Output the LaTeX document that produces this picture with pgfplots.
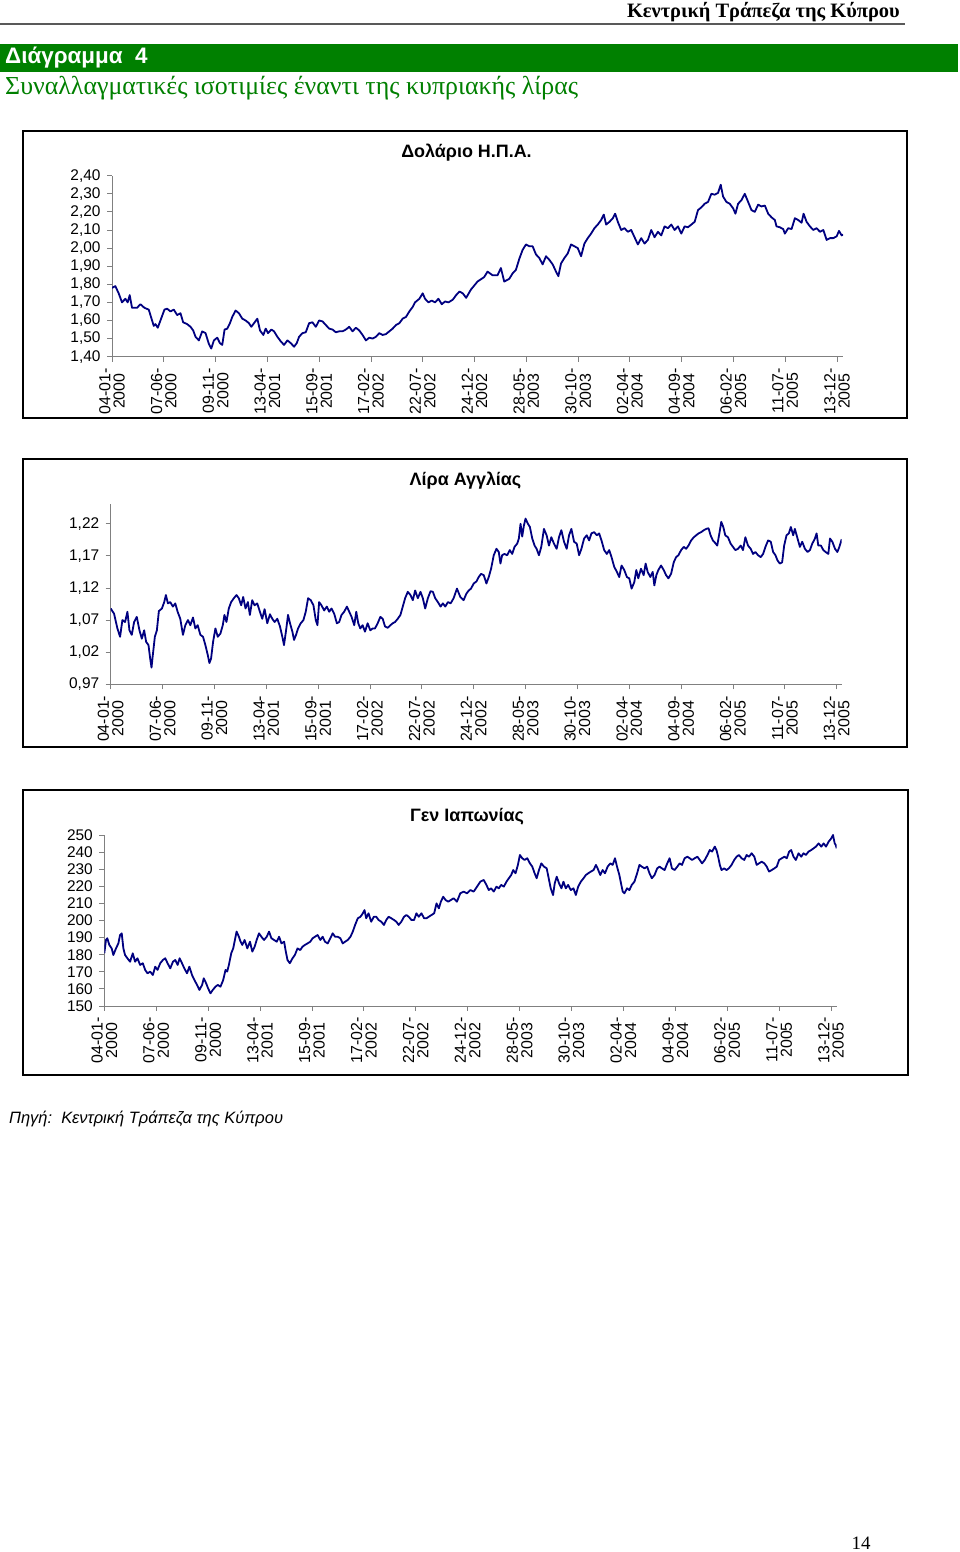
\documentclass[border=0pt]{standalone}
\usepackage{pgfplots}
\pgfplotsset{compat=1.18}
\usepackage{fontspec}
\setmainfont{Liberation Sans}
\newfontfamily\serif{Liberation Serif}
\definecolor{cbgreen}{RGB}{0,128,0}
\definecolor{navy}{RGB}{0,0,128}
\definecolor{axgray}{RGB}{128,128,128}

\pgfplotsset{
  fx/.style={
    scale only axis,
    anchor=south west,
    axis x line*=bottom, axis y line*=left,
    axis line style={axgray, line width=0.8bp},
    tick style={axgray, line width=0.8bp},
    tick align=outside,
    major tick length=5bp,
    xmin=0,
    xtick={0,155,...,2170},
    xticklabels={{04-01-\\2000},{07-06-\\2000},{09-11-\\2000},{13-04-\\2001},{15-09-\\2001},
      {17-02-\\2002},{22-07-\\2002},{24-12-\\2002},{28-05-\\2003},{30-10-\\2003},
      {02-04-\\2004},{04-09-\\2004},{06-02-\\2005},{11-07-\\2005},{13-12-\\2005}},
    xticklabel style={yshift=-3bp, rotate=90, anchor=east, align=center,
      font=\fontsize{16}{14.5}\selectfont},
    yticklabel style={xshift=-3bp, font=\fontsize{15.5}{16}\selectfont},
    /pgf/number format/assume math mode=true,
  },
  comma2/.style={
    yticklabel style={/pgf/number format/fixed, /pgf/number format/precision=2,
      /pgf/number format/fixed zerofill, /pgf/number format/use comma},
  },
  fxline/.style={navy, line width=1.8bp, line join=round, no marks},
}

\begin{document}
\begin{tikzpicture}
\useasboundingbox (0,0) rectangle (960bp,1552bp);
\fill[white] (0,0) rectangle (960bp,1552bp);

% page header
\node[anchor=east, inner sep=0pt, font=\serif\bfseries\fontsize{20.5}{22}\selectfont]
  at (900bp,1540bp) {Κεντρική Τράπεζα της Κύπρου};
\draw[black!65, line width=1.5bp] (0bp,1528bp) -- (905bp,1528bp);
\fill[cbgreen] (0bp,1480bp) rectangle (958bp,1508bp);
\node[anchor=west, inner sep=0pt, text=white, font=\bfseries\fontsize{22.5}{24}\selectfont]
  at (5bp,1494bp) {Διάγραμμα\ \ 4};
\node[anchor=west, inner sep=0pt, text=cbgreen, font=\serif\fontsize{26}{28}\selectfont]
  at (5bp,1464bp) {Συναλλαγματικές ισοτιμίες έναντι της κυπριακής λίρας};

% frames
\draw[black, line width=2bp] (23bp,1134bp) rectangle (907bp,1421bp);
\draw[black, line width=2bp] (23bp,805bp) rectangle (907bp,1093bp);
\draw[black, line width=2bp] (23bp,477bp) rectangle (908bp,762bp);

% chart titles
\node[font=\bfseries\fontsize{18}{20}\selectfont] at (466.5bp,1399bp) {Δολάριο Η.Π.Α.};
\node[font=\bfseries\fontsize{18}{20}\selectfont] at (465.5bp,1071bp) {Λίρα Αγγλίας};
\node[font=\bfseries\fontsize{18}{20}\selectfont] at (467bp,735bp) {Γεν Ιαπωνίας};

% chart 1: US dollar
\begin{axis}[fx, comma2, at={(112bp,1195.3bp)}, width=731bp, height=181bp,
  xmax=2188, ymin=1.4, ymax=2.4,
  ytick={1.4,1.5,1.6,1.7,1.8,1.9,2.0,2.1,2.2,2.3,2.4}]
\addplot[fxline] table {
d v
0 1.78
10 1.79
20 1.75
30 1.70
40 1.72
47 1.70
53 1.74
60 1.67
75 1.67
85 1.69
97 1.67
110 1.66
120 1.60
125 1.57
130 1.58
137 1.56
145 1.60
157 1.66
165 1.665
175 1.65
185 1.66
195 1.63
205 1.64
213 1.59
225 1.58
235 1.565
243 1.545
250 1.51
260 1.49
270 1.54
280 1.53
290 1.47
297 1.445
305 1.49
315 1.505
323 1.475
330 1.465
337 1.55
345 1.555
353 1.585
360 1.62
370 1.655
380 1.64
390 1.61
400 1.60
410 1.585
417 1.565
425 1.585
435 1.61
443 1.545
453 1.52
460 1.555
467 1.53
477 1.55
485 1.54
495 1.51
505 1.485
515 1.465
525 1.49
535 1.475
545 1.455
553 1.475
560 1.51
570 1.53
580 1.535
590 1.585
600 1.59
610 1.565
620 1.60
630 1.595
640 1.575
650 1.555
660 1.55
670 1.535
680 1.54
690 1.54
700 1.55
710 1.565
720 1.54
730 1.56
740 1.545
750 1.52
760 1.49
770 1.505
780 1.50
790 1.51
800 1.53
810 1.52
820 1.525
830 1.54
840 1.555
850 1.575
860 1.585
870 1.61
880 1.62
890 1.65
900 1.675
907 1.70
920 1.72
930 1.75
937 1.72
947 1.70
957 1.71
967 1.70
977 1.72
987 1.69
997 1.705
1007 1.70
1020 1.715
1030 1.74
1040 1.76
1050 1.75
1060 1.725
1074 1.77
1094 1.815
1114 1.84
1124 1.87
1139 1.85
1154 1.85
1164 1.89
1174 1.815
1189 1.83
1199 1.86
1209 1.88
1219 1.94
1229 1.99
1239 2.02
1249 2.01
1259 2.01
1269 1.965
1279 1.945
1289 1.91
1299 1.955
1309 1.935
1319 1.91
1329 1.87
1336 1.845
1344 1.915
1354 1.945
1364 1.97
1374 2.02
1384 2.01
1394 2.00
1404 1.955
1414 2.025
1424 2.055
1434 2.08
1444 2.11
1454 2.13
1464 2.155
1472 2.185
1479 2.13
1489 2.145
1499 2.165
1506 2.19
1514 2.145
1524 2.10
1534 2.11
1544 2.09
1554 2.10
1564 2.06
1574 2.02
1584 2.055
1594 2.025
1604 2.045
1614 2.10
1624 2.06
1634 2.09
1644 2.07
1654 2.12
1664 2.11
1674 2.13
1684 2.10
1694 2.12
1704 2.08
1714 2.12
1724 2.115
1734 2.13
1744 2.145
1754 2.21
1764 2.225
1774 2.245
1784 2.255
1794 2.30
1804 2.295
1814 2.305
1822 2.35
1829 2.285
1839 2.255
1849 2.245
1859 2.22
1866 2.19
1874 2.245
1884 2.265
1894 2.30
1904 2.255
1914 2.21
1924 2.20
1934 2.24
1944 2.23
1954 2.235
1964 2.19
1974 2.17
1984 2.155
1989 2.12
1999 2.115
2009 2.105
2014 2.08
2024 2.11
2034 2.105
2044 2.165
2054 2.155
2064 2.14
2070 2.19
2079 2.145
2089 2.12
2099 2.10
2109 2.11
2119 2.09
2129 2.10
2139 2.045
2149 2.055
2159 2.055
2169 2.065
2176 2.095
2184 2.07
2188 2.075
};
\end{axis}

% chart 2: pound sterling
\begin{axis}[fx, comma2, at={(110.7bp,867.7bp)}, width=731bp, height=179.8bp,
  xmax=2185, ymin=0.97, ymax=1.25,
  ytick={0.97,1.02,1.07,1.12,1.17,1.22}]
\addplot[fxline] table {
d v
0 1.088
10 1.080
20 1.057
28 1.044
35 1.070
43 1.067
50 1.083
56 1.054
63 1.047
70 1.067
78 1.075
86 1.054
93 1.041
100 1.054
106 1.036
113 1.031
118 1.010
122 0.996
126 1.016
132 1.044
138 1.054
144 1.084
153 1.088
160 1.098
165 1.109
171 1.096
178 1.098
186 1.091
193 1.096
200 1.083
208 1.072
216 1.047
223 1.062
231 1.070
238 1.062
246 1.074
253 1.057
260 1.062
268 1.047
276 1.044
283 1.031
290 1.016
295 1.003
300 1.010
306 1.036
313 1.057
320 1.044
328 1.049
335 1.062
340 1.078
346 1.067
353 1.088
360 1.098
368 1.104
376 1.109
383 1.104
390 1.093
396 1.106
403 1.088
410 1.098
416 1.078
423 1.101
430 1.093
438 1.096
446 1.083
453 1.072
460 1.087
468 1.065
476 1.079
483 1.072
490 1.067
498 1.072
506 1.060
513 1.044
518 1.031
525 1.057
530 1.078
536 1.065
543 1.052
548 1.039
554 1.047
560 1.057
568 1.065
576 1.070
583 1.083
590 1.104
598 1.101
606 1.093
613 1.070
618 1.062
623 1.098
630 1.093
638 1.085
646 1.091
653 1.083
660 1.088
668 1.080
676 1.065
683 1.067
690 1.078
698 1.083
706 1.091
713 1.083
720 1.075
728 1.062
734 1.083
740 1.065
746 1.057
753 1.062
760 1.052
768 1.065
776 1.054
783 1.057
790 1.057
798 1.065
806 1.075
813 1.072
820 1.060
828 1.058
836 1.062
843 1.065
850 1.067
858 1.072
866 1.078
873 1.091
880 1.104
888 1.114
896 1.109
903 1.101
910 1.116
918 1.104
926 1.114
933 1.104
940 1.088
948 1.104
956 1.115
963 1.114
970 1.104
978 1.098
986 1.091
993 1.096
1000 1.091
1008 1.098
1016 1.096
1025 1.104
1035 1.119
1045 1.106
1055 1.101
1063 1.111
1070 1.116
1077 1.119
1085 1.127
1093 1.130
1100 1.137
1107 1.142
1115 1.140
1123 1.127
1130 1.137
1137 1.150
1145 1.171
1153 1.181
1160 1.176
1165 1.158
1170 1.171
1177 1.173
1185 1.171
1193 1.179
1200 1.173
1207 1.184
1215 1.189
1220 1.197
1225 1.220
1230 1.200
1235 1.217
1240 1.228
1247 1.220
1253 1.215
1260 1.197
1267 1.186
1273 1.181
1280 1.171
1287 1.184
1295 1.212
1303 1.202
1310 1.186
1317 1.199
1325 1.189
1333 1.181
1340 1.199
1347 1.210
1355 1.192
1363 1.181
1370 1.202
1377 1.212
1385 1.192
1393 1.189
1400 1.171
1407 1.181
1415 1.197
1423 1.202
1430 1.194
1437 1.205
1445 1.207
1453 1.202
1460 1.205
1467 1.194
1475 1.179
1483 1.173
1490 1.179
1497 1.168
1505 1.153
1513 1.145
1520 1.137
1527 1.155
1535 1.148
1543 1.137
1550 1.135
1557 1.119
1565 1.129
1571 1.148
1577 1.135
1585 1.150
1593 1.140
1599 1.158
1605 1.145
1613 1.137
1620 1.145
1625 1.124
1631 1.140
1637 1.148
1645 1.155
1653 1.148
1660 1.140
1667 1.135
1675 1.142
1683 1.160
1690 1.168
1697 1.171
1705 1.179
1713 1.184
1720 1.181
1727 1.186
1735 1.194
1743 1.199
1750 1.202
1757 1.205
1765 1.207
1773 1.210
1780 1.212
1787 1.213
1793 1.202
1800 1.194
1807 1.190
1813 1.186
1820 1.207
1825 1.223
1831 1.215
1837 1.202
1845 1.199
1853 1.189
1860 1.184
1867 1.179
1875 1.181
1883 1.186
1890 1.179
1897 1.199
1905 1.186
1913 1.181
1920 1.173
1927 1.176
1935 1.171
1943 1.168
1950 1.173
1957 1.184
1965 1.194
1973 1.192
1980 1.176
1987 1.171
1993 1.163
2000 1.158
2007 1.160
2013 1.186
2020 1.202
2027 1.205
2033 1.215
2040 1.202
2045 1.212
2053 1.197
2060 1.184
2067 1.192
2075 1.181
2083 1.176
2090 1.179
2097 1.189
2105 1.197
2110 1.205
2115 1.186
2123 1.186
2130 1.179
2137 1.176
2145 1.173
2150 1.197
2157 1.192
2165 1.181
2172 1.176
2178 1.184
2185 1.196
};
\end{axis}

% chart 3: Japanese yen
\begin{axis}[fx, at={(104.3bp,546bp)}, width=732.4bp, height=171bp,
  xmax=2187, ymin=150, ymax=250,
  ytick={150,160,...,250}]
\addplot[fxline] table {
d v
0 180.8
5 188.6
9 189.6
15 185.7
22 183.7
27 179.8
35 183.7
42 186.6
47 191.5
52 192.5
57 183.7
62 179.8
69 177.9
77 175.9
85 180.8
92 175.9
99 177.9
107 174.0
115 175.0
122 171.1
129 169.1
137 170.1
145 168.1
152 173.0
159 171.1
167 175.0
175 176.9
182 177.9
189 175.0
197 172.0
205 175.9
212 176.9
219 174.0
225 177.9
232 175.0
239 172.0
247 169.1
254 173.0
262 168.1
269 165.2
277 162.3
284 159.4
292 162.3
297 166.2
304 163.3
310 160.3
317 157.4
324 159.4
332 161.3
339 162.3
347 161.3
355 165.2
362 171.1
367 170.1
372 174.0
379 180.8
385 183.7
389 187.6
395 193.5
402 190.5
407 187.6
412 185.7
419 188.6
427 183.7
435 187.6
442 181.8
449 184.7
455 188.6
462 192.5
469 190.5
477 188.6
485 190.5
492 193.5
499 189.6
507 188.6
515 187.6
522 190.5
529 186.6
537 187.6
542 181.8
547 176.9
554 175.0
562 177.9
569 179.8
577 183.7
585 182.7
592 184.7
599 185.7
607 186.6
615 187.6
622 189.6
629 190.5
637 191.5
645 188.6
652 190.5
659 187.6
667 186.6
675 189.6
682 192.5
689 190.5
697 190.5
705 189.6
712 186.6
719 187.6
727 188.6
735 190.5
742 193.5
749 197.4
757 201.3
765 202.2
772 204.2
777 206.1
782 201.3
789 204.2
797 199.3
805 202.2
812 202.2
819 200.3
827 199.3
835 197.4
842 200.3
849 202.2
857 201.3
865 200.3
872 199.3
879 197.4
887 199.3
895 202.2
902 203.2
909 202.2
917 200.3
925 200.3
932 204.2
939 202.2
947 204.2
955 201.3
962 201.3
969 202.2
977 203.2
985 204.2
992 210.0
999 207.1
1005 211.0
1012 213.9
1019 212.0
1027 211.0
1035 212.0
1043 213.0
1053 211.0
1063 215.9
1073 216.9
1083 215.9
1093 217.8
1103 216.9
1113 219.8
1123 222.7
1133 223.7
1141 220.8
1148 217.8
1155 218.8
1163 216.9
1171 219.8
1178 218.8
1185 220.8
1193 219.8
1201 222.7
1208 224.7
1215 226.6
1221 229.5
1228 227.6
1235 232.5
1241 238.3
1248 236.4
1255 235.4
1263 236.4
1271 233.4
1278 231.5
1285 227.6
1291 224.7
1298 229.5
1305 233.4
1313 231.5
1321 230.5
1328 223.7
1333 218.8
1340 214.9
1345 221.7
1351 225.6
1358 221.7
1365 218.8
1371 222.7
1378 218.8
1385 220.8
1393 217.8
1401 218.8
1408 214.9
1415 219.8
1423 222.7
1431 224.7
1438 226.6
1445 227.6
1453 228.6
1461 229.5
1468 232.5
1473 230.5
1481 226.6
1488 229.5
1495 227.6
1503 231.5
1511 233.4
1518 232.5
1525 236.4
1531 231.5
1538 226.6
1543 221.7
1548 216.9
1553 215.9
1561 218.8
1568 217.8
1575 220.8
1583 222.7
1591 227.6
1598 232.5
1605 231.5
1613 230.5
1621 231.5
1628 227.6
1635 224.7
1643 226.6
1651 230.5
1658 231.5
1665 230.5
1673 229.5
1681 233.4
1688 236.4
1695 230.5
1703 229.5
1711 231.5
1718 233.4
1725 232.5
1733 236.4
1741 237.3
1748 236.4
1755 235.4
1763 236.4
1771 237.3
1778 235.4
1785 233.4
1793 235.4
1801 238.3
1808 241.2
1815 240.3
1823 243.2
1828 241.2
1833 237.3
1838 232.5
1843 229.5
1851 230.5
1858 229.5
1865 230.5
1873 232.5
1881 235.4
1888 237.3
1895 238.3
1903 236.4
1911 235.4
1918 238.3
1925 237.3
1933 239.3
1941 237.3
1948 232.5
1955 233.4
1963 234.4
1971 233.4
1978 231.5
1985 228.6
1993 229.5
2001 230.5
2008 231.5
2015 235.4
2023 236.4
2031 237.3
2038 236.4
2045 240.3
2051 241.2
2058 237.3
2065 235.4
2073 239.3
2081 237.3
2088 239.3
2095 238.3
2103 240.3
2111 241.2
2118 242.2
2125 243.2
2133 245.1
2141 243.2
2148 245.1
2155 243.2
2163 246.1
2171 248.1
2176 250.0
2181 245.1
2184 244.2
2187 242.2
};
\end{axis}

% source and page number
\node[anchor=west, inner sep=0pt, font=\itshape\fontsize{16.5}{18}\selectfont]
  at (9bp,433bp) {Πηγή:\ \ Κεντρική Τράπεζα της Κύπρου};
\node[inner sep=0pt, font=\serif\fontsize{19}{20}\selectfont] at (861bp,9bp) {14};
\end{tikzpicture}
\end{document}
